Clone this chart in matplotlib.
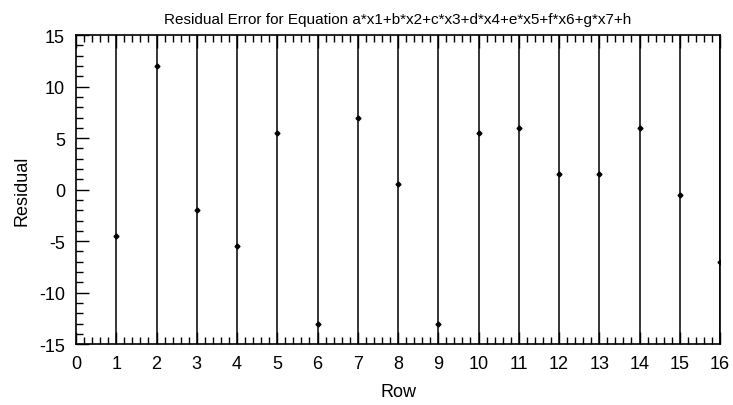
import matplotlib
matplotlib.use('Agg')
import matplotlib.pyplot as plt
from matplotlib.ticker import MultipleLocator
import numpy as np

plt.rcParams['font.family'] = ['Liberation Sans', 'DejaVu Sans']
plt.rcParams['axes.unicode_minus'] = False

rows = np.arange(1, 17)
residuals = [-4.5, 12, -2, -5.5, 5.5, -13, 7, 0.5, -13, 5.5, 6, 1.5, 1.5, 6, -0.5, -7]
title = 'Residual Error for Equation a*x1+b*x2+c*x3+d*x4+e*x5+f*x6+g*x7+h'

fig = plt.figure(figsize=(7.33, 4.06), dpi=100)
ax = fig.add_axes([0.1037, 0.150, 0.8786, 0.761])

ax.vlines(rows, -15, 15, colors='black', linewidth=1.1)
ax.plot(rows, residuals, 'D', color='black', markersize=2.5)

ax.set_xlim(0, 16)
ax.set_ylim(-15, 15)
ax.xaxis.set_major_locator(MultipleLocator(1))
ax.xaxis.set_minor_locator(MultipleLocator(0.2))
ax.yaxis.set_major_locator(MultipleLocator(5))
ax.yaxis.set_minor_locator(MultipleLocator(1))
ax.tick_params(which='both', direction='in', top=True, right=False, labelsize=13, width=1)
ax.tick_params(which='major', length=9, pad=8)
ax.tick_params(which='minor', length=5)
for s in ax.spines.values():
    s.set_linewidth(1.2)

ax.set_title(title, fontsize=11, pad=9)
ax.set_xlabel('Row', fontsize=13, labelpad=8)
ax.set_ylabel('Residual', fontsize=13, labelpad=6)

plt.savefig('out.png', dpi=100)
